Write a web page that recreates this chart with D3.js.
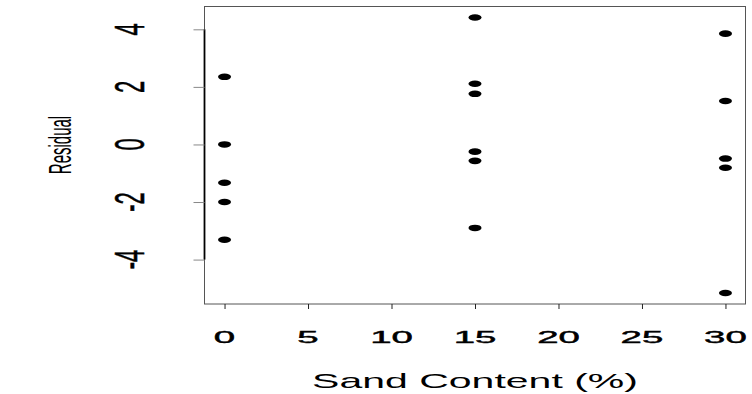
<!DOCTYPE html>
<html>
<head>
<meta charset="utf-8">
<script src="https://cdn.jsdelivr.net/npm/d3@7"></script>
<style>
    body { margin: 0; background: #fff; }
    text { font-family: "Liberation Sans", Arial, sans-serif; fill: #000; }
</style>
</head>
<body>
<script>
//data
var sand = [0, 0, 0, 0, 0, 15, 15, 15, 15, 15, 15, 30, 30, 30, 30, 30];
var residual = [2.35, 0.0, -1.33, -2.0, -3.31, 4.41, 2.11, 1.76, -0.25, -0.57, -2.90, 3.85, 1.51, -0.49, -0.81, -5.16];
var xTicks = [0, 5, 10, 15, 20, 25, 30];
var yTicks = [-4, -2, 0, 2, 4];
var xTitle = "Sand Content (%)";
var yTitle = "Residual";

window.onload = setChart();

function setChart(){
    var width = 752,
        height = 394;

    //plot box
    var left = 204.5, right = 745.5, top = 6.5, bottom = 304;

    var svg = d3.select("body")
        .append("svg")
        .attr("width", width)
        .attr("height", height);

    //R style 4% padding on the data range
    function padded(arr){
        var ext = d3.extent(arr), pad = (ext[1] - ext[0]) * 0.04;
        return [ext[0] - pad, ext[1] + pad];
    }

    var x = d3.scaleLinear().domain(padded(sand)).range([left, right]);
    var y = d3.scaleLinear().domain(padded(residual)).range([bottom, top]);

    //box
    svg.append("rect")
        .attr("x", left)
        .attr("y", top)
        .attr("width", right - left)
        .attr("height", bottom - top)
        .attr("fill", "none")
        .attr("stroke", "#555")
        .attr("stroke-width", 1);

    //y axis - ticks on the left, labels rotated
    var yAxis = d3.axisLeft(y)
        .tickValues(yTicks)
        .tickSize(11)
        .tickFormat("");
    var gy = svg.append("g")
        .attr("transform", "translate(" + left + ",0)")
        .call(yAxis);
    gy.select(".domain")
        .attr("d", "M0," + y(4) + "V" + y(-4))
        .attr("stroke", "#000")
        .attr("stroke-width", 1.8);
    gy.selectAll(".tick line").attr("stroke", "#888");

    svg.selectAll(".ylab")
        .data(yTicks)
        .enter()
        .append("text")
        .attr("class", "ylab")
        .attr("transform", function(d){
            return "translate(144," + y(d) + ") scale(1.9,1) rotate(-90)";
        })
        .attr("text-anchor", "middle")
        .style("font-size", "22px")
        .style("stroke", "#000")
        .style("stroke-width", 0.3)
        .text(function(d){ return d; });

    //x axis - short ticks under the box
    var xAxis = d3.axisBottom(x)
        .tickValues(xTicks)
        .tickSize(5)
        .tickFormat("");
    var gx = svg.append("g")
        .attr("transform", "translate(0," + bottom + ")")
        .call(xAxis);
    gx.select(".domain").remove();
    gx.selectAll(".tick line").attr("stroke", "#222");

    svg.selectAll(".xlab")
        .data(xTicks)
        .enter()
        .append("text")
        .attr("class", "xlab")
        .attr("transform", function(d){
            return "translate(" + x(d) + ",342.5) scale(2.4,1)";
        })
        .attr("text-anchor", "middle")
        .style("font-size", "16px")
        .style("stroke", "#000")
        .style("stroke-width", 0.4)
        .text(function(d){ return d; });

    //axis titles
    svg.append("text")
        .attr("transform", "translate(" + ((left + right) / 2) + ",387.5) scale(2.05,1)")
        .attr("text-anchor", "middle")
        .style("font-size", "20px")
        .text(xTitle);

    svg.append("text")
        .attr("transform", "translate(71,145) scale(2.1,1) rotate(-90)")
        .attr("text-anchor", "middle")
        .style("font-size", "15px")
        .text(yTitle);

    //points
    svg.selectAll(".pt")
        .data(sand)
        .enter()
        .append("ellipse")
        .attr("class", "pt")
        .attr("cx", function(d){ return x(d); })
        .attr("cy", function(d, i){ return y(residual[i]); })
        .attr("rx", 6.5)
        .attr("ry", 3.3)
        .attr("fill", "#000");
}
</script>
</body>
</html>
